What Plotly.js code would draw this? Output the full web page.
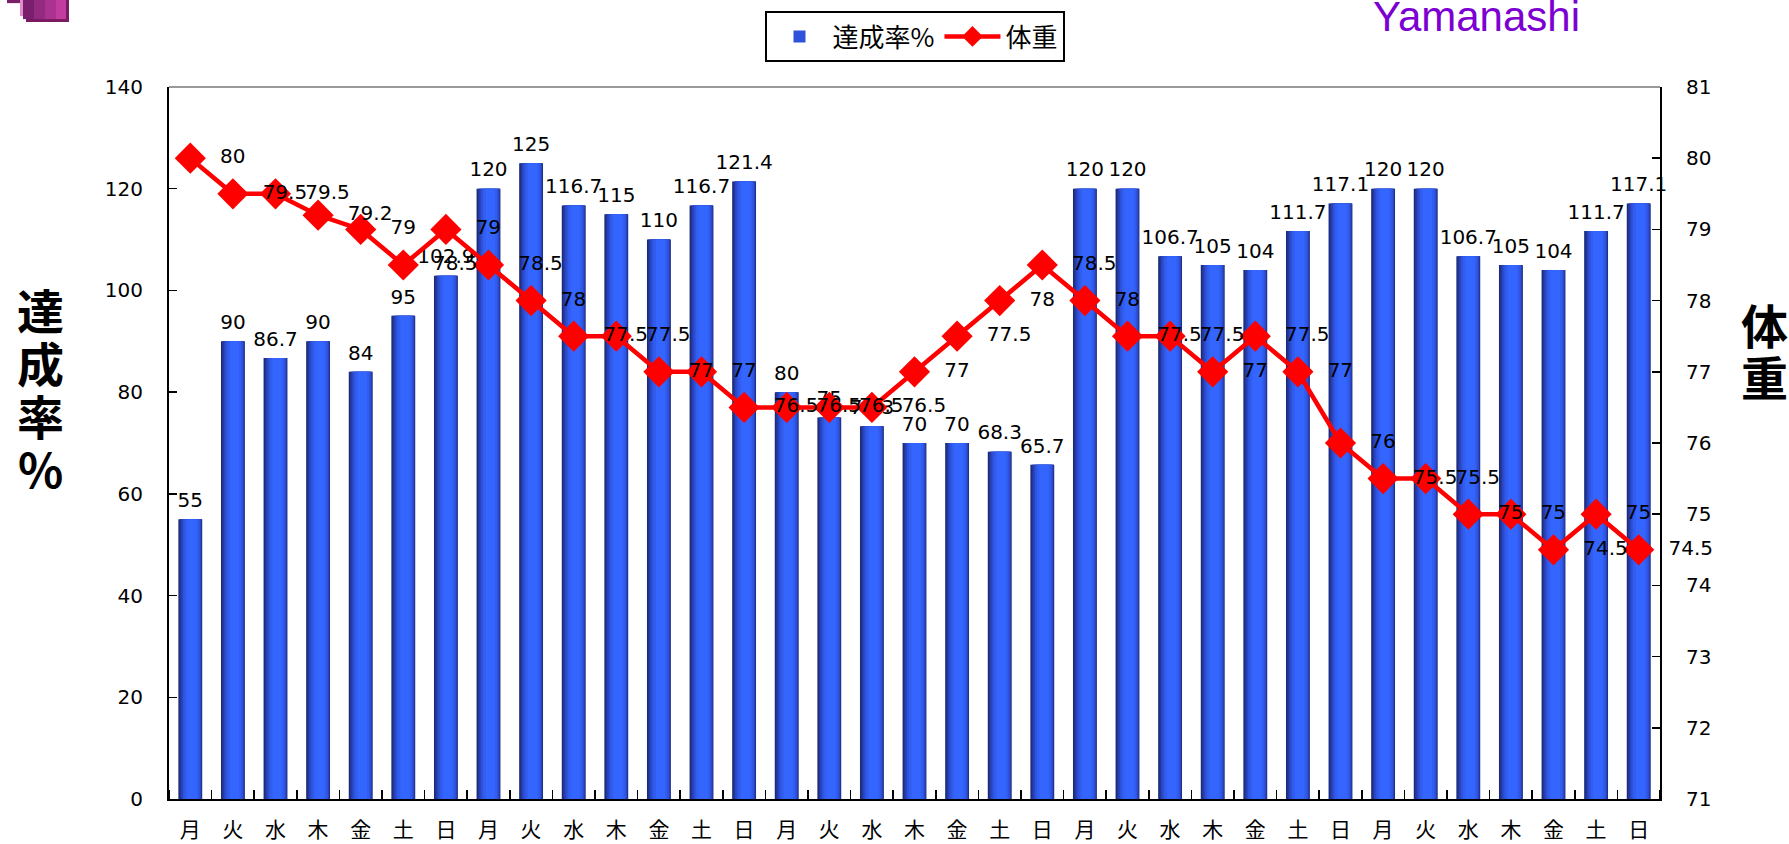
<!DOCTYPE html>
<html><head><meta charset="utf-8">
<script src="https://cdn.plot.ly/plotly-3.0.1.min.js"></script>
<style>html,body{margin:0;padding:0;background:#fff;overflow:hidden}#chart{width:1789px;height:844px}</style>
</head><body><div id="chart"></div>
<script>
// ---- data ----
const days = ['月','火','水','木','金','土','日','月','火','水','木','金','土','日','月','火','水','木','金','土','日',
              '月','火','水','木','金','土','日','月','火','水','木','金','土','日'];
const achievement = [55,90,86.7,90,84,95,102.9,120,125,116.7,115,110,116.7,121.4,80,75,73.3,70,70,68.3,65.7,
                     120,120,106.7,105,104,111.7,117.1,120,120,106.7,105,104,111.7,117.1];
const weight = [80,79.5,79.5,79.2,79,78.5,79,78.5,78,77.5,77.5,77,77,76.5,76.5,76.5,76.5,77,77.5,78,78.5,
                78,77.5,77.5,77,77.5,77,76,75.5,75.5,75,75,74.5,75,74.5];
const barName = '達成率%';
const lineName = '体重';
const leftTitle = '達成率%';
const rightTitle = '体重';
const subtitle = 'Yamanashi';

// ---- geometry helpers ----
const L = 169, R = 1660, T = 86, B = 799;
const pw = R - L, ph = B - T;
const px = p => (p - L) / pw;
const py = p => 1 - (p - T) / ph;
const idx = days.map((d, i) => i);

const numFont = 'DejaVu Sans, Liberation Sans, sans-serif';
const cjkFont = 'Noto Sans CJK JP, sans-serif';

// gradient layers (widest darkest first)
const layers = [
  {w: 0.56, c: '#1c2a78', s: 0.0},
  {w: 0.52, c: '#22379a', s: 0.01},
  {w: 0.47, c: '#2944bc', s: 0.02},
  {w: 0.41, c: '#2e52da', s: 0.03},
  {w: 0.33, c: '#315df0', s: 0.035},
  {w: 0.22, c: '#3466ff', s: 0.04}
];

const traces = layers.map((ly, k) => ({
  type: 'bar', x: idx, y: achievement, width: ly.w, offset: -ly.w / 2 + ly.s,
  marker: {color: ly.c, line: {width: 0}}, name: barName,
  showlegend: k === 3, hoverinfo: 'skip', textposition: 'none'
}));

// value labels above the bars
traces.push({
  type: 'scatter', x: idx, y: achievement, mode: 'markers+text', text: achievement.map(String),
  textposition: 'top center', marker: {size: 10, opacity: 0}, showlegend: false, hoverinfo: 'skip',
  textfont: {family: numFont, size: 20, color: '#000'}, cliponaxis: false
});

traces.push({
  type: 'scatter', x: idx, y: weight, yaxis: 'y2', mode: 'lines+markers', name: lineName,
  line: {color: '#ff0000', width: 4.5}, marker: {symbol: 'diamond', size: 24, color: '#ff0000'},
  cliponaxis: false
});
// weight labels to the right of the markers (invisible wide marker gives the offset)
traces.push({
  type: 'scatter', x: idx, y: weight, yaxis: 'y2', mode: 'markers+text',
  text: weight.map(String), textposition: 'middle right', showlegend: false,
  marker: {size: 46, opacity: 0},
  textfont: {family: numFont, size: 20, color: '#000'}, cliponaxis: false, hoverinfo: 'skip'
});

const annotations = [];
annotations.push({
  xref: 'paper', yref: 'paper', x: px(1476), y: py(41), xanchor: 'center', yanchor: 'bottom',
  text: subtitle, showarrow: false, font: {family: 'Liberation Sans, Arial, sans-serif', size: 42, color: '#7d00d2'}
});
Array.from(leftTitle).forEach((ch, i) => annotations.push({
  xref: 'paper', yref: 'paper', x: px(40), y: py(308 + i * 53), xanchor: 'center', yanchor: 'middle',
  text: ch, showarrow: false, font: {family: cjkFont, size: 47, color: '#000', weight: 700}
}));
Array.from(rightTitle).forEach((ch, i) => annotations.push({
  xref: 'paper', yref: 'paper', x: px(1764), y: py(323 + i * 52), xanchor: 'center', yanchor: 'middle',
  text: ch, showarrow: false, font: {family: cjkFont, size: 47, color: '#000', weight: 700}
}));

const rect = (x0, x1, y0, y1, c) => ({type: 'rect', xref: 'paper', yref: 'paper', x0: px(x0), x1: px(x1), y0: py(y1), y1: py(y0), fillcolor: c, line: {width: 0}});
const shapes = [
  {type: 'line', xref: 'paper', yref: 'paper', x0: 0, x1: 1, y0: 1, y1: 1, line: {color: '#999999', width: 2}},
  // decorative icon top-left
  rect(7, 21, -5, 2, '#7a1f6a'),
  rect(20, 24, -5, 15, '#e08ccc'),
  rect(26, 69, -5, 21, '#7a1a60'),
  rect(23, 34, -5, 18, '#7a1f6e'),
  rect(34, 45, -5, 18, '#922a80'),
  rect(45, 56, -5, 18, '#aa3290'),
  rect(56, 66, -5, 18, '#c23c9e')
];

const layout = {
  width: 1789, height: 844,
  margin: {l: L, r: 1789 - R, t: T, b: 844 - B, pad: 0},
  paper_bgcolor: '#fff', plot_bgcolor: '#fff',
  barmode: 'overlay',
  showlegend: true,
  legend: {
    orientation: 'h', x: 0.5, xanchor: 'center', y: py(11), yanchor: 'top',
    bordercolor: '#000', borderwidth: 2, bgcolor: '#fff',
    font: {family: cjkFont, size: 26, color: '#000'}, itemwidth: 56, tracegroupgap: 0
  },
  xaxis: {
    range: [-0.5, 34.5], tickmode: 'array', tickvals: idx, ticktext: days, ticks: '',
    showline: true, linecolor: '#000', linewidth: 2, showgrid: false, zeroline: false,
    tickfont: {family: cjkFont, size: 21, color: '#000'}, ticklabelstandoff: 11,
    minor: {tickmode: 'linear', tick0: 0.5, dtick: 1, ticks: 'inside', ticklen: 9, tickwidth: 1.5, tickcolor: '#000', showgrid: false},
    fixedrange: true
  },
  yaxis: {
    range: [0, 140], tickmode: 'linear', tick0: 0, dtick: 20, ticks: 'inside', ticklen: 8, tickwidth: 1.5,
    tickcolor: '#000', showline: true, linecolor: '#000', linewidth: 2, showgrid: false, zeroline: false,
    tickfont: {family: numFont, size: 20, color: '#000'}, ticklabelstandoff: 20, fixedrange: true
  },
  yaxis2: {
    range: [71, 81], tickmode: 'linear', tick0: 71, dtick: 1, overlaying: 'y', side: 'right',
    ticks: 'inside', ticklen: 8, tickwidth: 1.5, tickcolor: '#000', showline: true, linecolor: '#000', linewidth: 2,
    showgrid: false, zeroline: false, tickfont: {family: numFont, size: 20, color: '#000'},
    ticklabelstandoff: 20, fixedrange: true
  },
  annotations: annotations,
  shapes: shapes
};

Plotly.newPlot('chart', traces, layout, {displayModeBar: false, staticPlot: true});
</script>
</body></html>
